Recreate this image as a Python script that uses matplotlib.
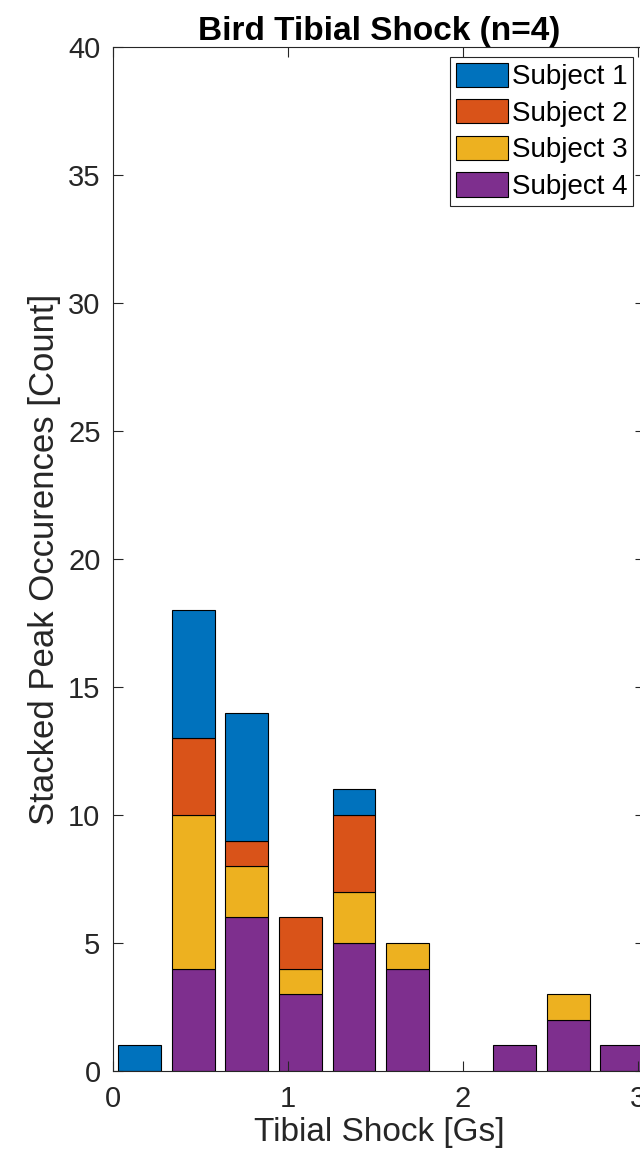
import matplotlib
matplotlib.use("Agg")
import matplotlib.pyplot as plt
import numpy as np

plt.rcParams['font.family'] = ['Liberation Sans', 'DejaVu Sans']

# ---- data ----
bin_centers = [0.153, 0.459, 0.765, 1.071, 1.377, 1.683, 1.989, 2.295, 2.601, 2.907]
bin_width = 0.306
subjects = ["Subject 1", "Subject 2", "Subject 3", "Subject 4"]
subject1 = [1, 5, 5, 0, 1, 0, 0, 0, 0, 0]
subject2 = [0, 3, 1, 2, 3, 0, 0, 0, 0, 0]
subject3 = [0, 6, 2, 1, 2, 1, 0, 0, 1, 0]
subject4 = [0, 4, 6, 3, 5, 4, 0, 1, 2, 1]
colors = ["#0072BD", "#D95319", "#EDB120", "#7E2F8E"]
x_ticks = [0, 1, 2, 3]
y_ticks = [0, 5, 10, 15, 20, 25, 30, 35, 40]

W, H = 640, 1163
fig = plt.figure(figsize=(W / 100, H / 100), dpi=100)
ax = fig.add_axes([113 / W, (H - 1071) / H, (645 - 113) / W, (1071 - 47) / H])

axcol = "#262626"
# stacking order: Subject 4 at bottom, then 3, 2, 1 on top
stack = [(subject4, colors[3], subjects[3]), (subject3, colors[2], subjects[2]),
         (subject2, colors[1], subjects[1]), (subject1, colors[0], subjects[0])]
bottom = np.zeros(len(bin_centers))
handles = {}
for vals, col, lab in stack:
    v = np.array(vals, dtype=float)
    lws = np.where(v > 0, 0.8, 0.0)
    b = ax.bar(bin_centers, v, width=bin_width * 0.8, bottom=bottom, color=col,
               edgecolor="black", linewidth=lws, label=lab)
    handles[lab] = b
    bottom = bottom + v

ax.set_xlim(0, 3.04)
ax.set_ylim(0, 40)
ax.set_xticks(x_ticks)
ax.set_yticks(y_ticks)
ax.tick_params(direction="in", length=7, width=0.8, colors=axcol, labelsize=21,
               top=True, right=True)
ax.tick_params(axis="x", pad=10)
ax.tick_params(axis="y", pad=9)
for s in ax.spines.values():
    s.set_color(axcol)
    s.set_linewidth(0.8)

ax.set_xlabel("Tibial Shock [Gs]", fontsize=24, color=axcol, labelpad=3)
ax.set_ylabel("Stacked Peak Occurences [Count]", fontsize=25, color=axcol, labelpad=5)
ax.set_title("Bird Tibial Shock (n=4)", fontsize=24, fontweight="bold", pad=5)

leg = ax.legend([handles[s] for s in subjects], subjects, loc="upper right",
                bbox_to_anchor=(633 / W, (H - 57) / H), bbox_transform=fig.transFigure,
                borderaxespad=0, fontsize=20, handlelength=1.87, handleheight=0.97,
                handletextpad=0.15, labelspacing=0.32, borderpad=0.2,
                fancybox=False, framealpha=1, edgecolor=axcol)
leg.get_frame().set_linewidth(0.8)
for p in leg.get_patches():
    p.set_linewidth(0.8)
for t in leg.get_texts():
    t.set_color("black")

fig.savefig("out.png", dpi=100)
